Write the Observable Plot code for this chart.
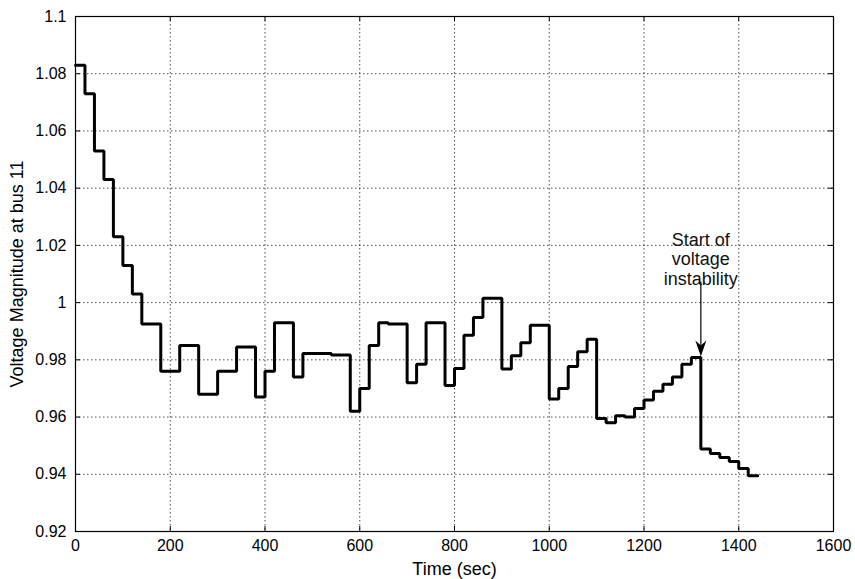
<!DOCTYPE html>
<html>
<head>
<meta charset="utf-8">
<script src="https://cdn.jsdelivr.net/npm/d3@7"></script>
<script src="https://cdn.jsdelivr.net/npm/@observablehq/plot@0.6"></script>
<style>
  html, body { margin: 0; padding: 0; background: #fff; }
  #chart svg { display: block; }
</style>
</head>
<body>
<div id="chart"></div>
<script>
// Time (sec) at which each step begins
const times = [0,20,40,60,80,100,120,140,180,220,260,300,340,380,400,420,460,480,540,580,600,620,640,660,700,720,740,780,800,820,840,860,900,920,940,960,1000,1020,1040,1060,1080,1100,1120,1140,1160,1180,1200,1220,1240,1260,1280,1300,1320,1340,1360,1380,1400,1420,1440];
// Voltage magnitude at bus 11 for each step
const voltage = [1.083,1.073,1.053,1.043,1.023,1.013,1.003,0.9925,0.976,0.985,0.968,0.976,0.9845,0.967,0.976,0.993,0.974,0.9822,0.9817,0.962,0.970,0.985,0.993,0.9925,0.972,0.9785,0.993,0.971,0.977,0.9886,0.9948,1.0015,0.9768,0.9814,0.986,0.9921,0.9663,0.970,0.9777,0.9828,0.9872,0.9595,0.958,0.9605,0.960,0.963,0.966,0.969,0.9715,0.974,0.9785,0.9808,0.9488,0.9473,0.9459,0.9445,0.942,0.9395,0.9395];

const xTicks = [0,200,400,600,800,1000,1200,1400,1600];
const yTicks = [0.92,0.94,0.96,0.98,1,1.02,1.04,1.06,1.08,1.1];
const yTickLabels = ["0.92","0.94","0.96","0.98","1","1.02","1.04","1.06","1.08","1.1"];

// annotation
const noteText = ["Start of\nvoltage\ninstability"];
const noteX = [1320];
const noteY = [1.0152];
const arrowFrom = [1.0051];
const arrowTo = [0.9812];

const data = times.map((t, i) => ({t, v: voltage[i]}));

const W = 855, H = 579;
const mL = 75, mR = 22, mT = 16, mB = 48;
const plotW = W - mL - mR, plotH = H - mT - mB;
const tick = 5;

// barbed, filled arrowhead (tip at +8)
const arrowHead = {
  draw(ctx) {
    ctx.moveTo(0, 8);
    ctx.lineTo(-5.5, -8);
    ctx.lineTo(0, -3);
    ctx.lineTo(5.5, -8);
    ctx.closePath();
  }
};

const chart = Plot.plot({
  width: W,
  height: H,
  marginLeft: mL,
  marginRight: mR,
  marginTop: mT,
  marginBottom: mB,
  style: {fontFamily: "'Liberation Sans', Arial, sans-serif", fontSize: "16px", color: "#000", background: "#fff"},
  x: {domain: [0, 1600]},
  y: {domain: [0.92, 1.1]},
  marks: [
    Plot.gridX(xTicks, {stroke: "#000", strokeOpacity: 0.7, strokeDasharray: "1.5,2.5"}),
    Plot.gridY(yTicks, {stroke: "#000", strokeOpacity: 0.7, strokeDasharray: "1.5,2.5"}),
    // inward tick marks on all four sides
    Plot.tickX(xTicks, {x: d => d, insetTop: plotH - tick, stroke: "#000"}),
    Plot.tickX(xTicks, {x: d => d, insetBottom: plotH - tick, stroke: "#000"}),
    Plot.tickY(yTicks, {y: d => d, insetRight: plotW - tick, stroke: "#000"}),
    Plot.tickY(yTicks, {y: d => d, insetLeft: plotW - tick, stroke: "#000"}),
    Plot.axisX({ticks: xTicks, tickSize: 0, tickPadding: 8, tickFormat: d => String(d), fontSize: 16,
      label: null}),
    Plot.axisX({ticks: [], tickSize: 0, label: "Time (sec)", labelAnchor: "center", labelArrow: "none",
      labelOffset: 43, fontSize: 18}),
    Plot.axisY({ticks: yTicks, tickSize: 0, tickPadding: 9, tickFormat: d => yTickLabels[yTicks.indexOf(d)],
      fontSize: 16, label: null}),
    Plot.axisY({ticks: [], tickSize: 0, label: "Voltage Magnitude at bus 11", labelAnchor: "center",
      labelArrow: "none", labelOffset: 65, fontSize: 18, className: "ylab"}),
    Plot.frame({stroke: "#000", strokeWidth: 1.2}),
    Plot.line(data, {x: "t", y: "v", curve: "step-after", stroke: "#000", strokeWidth: 3, strokeLinejoin: "miter"}),
    Plot.ruleX(noteX, {x: d => d, y1: (d, i) => arrowFrom[i], y2: (d, i) => arrowTo[i], stroke: "#000", strokeWidth: 1.2, dy: -6}),
    Plot.dot(noteX, {x: d => d, y: (d, i) => arrowTo[i], symbol: arrowHead, fill: "#000", stroke: "none", dy: -8}),
    Plot.text(noteText, {x: (d, i) => noteX[i], y: (d, i) => noteY[i], text: d => d, lineHeight: 1.1,
      fill: "#111", fontSize: 18, textAnchor: "middle"})
  ]
});

// stretch the y-axis title along its length like the reference
chart.querySelectorAll(".ylab text").forEach(t => t.setAttribute("letter-spacing", "1.9"));

document.getElementById("chart").appendChild(chart);
</script>
</body>
</html>
